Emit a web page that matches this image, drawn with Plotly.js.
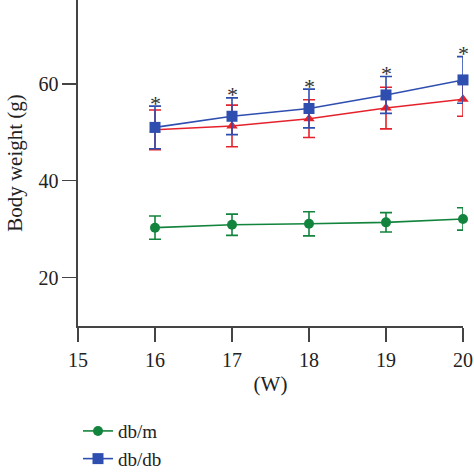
<!DOCTYPE html>
<html>
<head>
<meta charset="utf-8">
<script src="https://cdn.plot.ly/plotly-3.0.1.min.js"></script>
<style>html,body{margin:0;padding:0;background:#fff;}#chart{width:474px;height:474px;}</style>
</head>
<body>
<div id="chart"></div>
<script>
const weeks = [16, 17, 18, 19, 20];
const dbmMean = [30.3, 30.9, 31.1, 31.4, 32.1];
const dbmErr = [2.4, 2.2, 2.5, 2.0, 2.3];
const dbdbMean = [51.0, 53.3, 54.9, 57.7, 60.8];
const dbdbErr = [4.4, 3.8, 4.0, 3.8, 4.8];
const treatMean = [50.5, 51.3, 52.8, 55.0, 56.8];
const treatErr = [4.1, 4.3, 3.9, 4.3, 3.5];
const seriesNames = ["db/m", "db/db", "treated"];
const sigMark = ["*", "*", "*", "*", "*"];

const green = "#13843d", blue = "#2e4eb0", red = "#e5222b";
function trace(y, err, name, color, symbol, showleg) {
  return {
    x: weeks, y: y, name: name, type: "scatter", mode: "lines+markers",
    line: {color: color, width: 1.6},
    marker: {color: color, symbol: symbol, size: symbol === "square" ? 11 : 10},
    error_y: {type: "data", array: err, visible: true, color: color, thickness: 1.6, width: 6},
    cliponaxis: false, showlegend: showleg
  };
}
const data = [
  trace(dbmMean, dbmErr, seriesNames[0], green, "circle", true),
  trace(treatMean, treatErr, seriesNames[2], red, "triangle-up", false),
  trace(dbdbMean, dbdbErr, seriesNames[1], blue, "square", true)
];
const annotations = weeks.map((w, i) => ({
  x: w, y: dbdbMean[i] + dbdbErr[i], xref: "x", yref: "y",
  text: sigMark[i], showarrow: false, yanchor: "middle", yshift: 3,
  font: {family: "Liberation Serif", size: 22, color: "#333"}
}));
const font = {family: "Liberation Serif, Times New Roman, serif", size: 20, color: "#222"};
const layout = {
  width: 474, height: 474,
  margin: {l: 78, r: 11, t: 0, b: 148, autoexpand: false},
  paper_bgcolor: "#fff", plot_bgcolor: "#fff",
  font: font,
  xaxis: {
    range: [15, 20], tick0: 15, dtick: 1, showgrid: false, zeroline: false,
    showline: true, linecolor: "#444", linewidth: 1.6,
    ticks: "outside", ticklen: 14, tickwidth: 1.6, tickcolor: "#444",
    tickfont: font, ticklabelstandoff: 1, automargin: false,
    title: {text: "(W)", font: {family: font.family, size: 21, color: "#222"}, standoff: 7}
  },
  yaxis: {
    range: [10, 77.3], tick0: 0, dtick: 20, showgrid: false, zeroline: false,
    showline: true, linecolor: "#444", linewidth: 1.6,
    ticks: "outside", ticklen: 14, tickwidth: 1.6, tickcolor: "#444",
    tickfont: font, automargin: false,
    title: {text: "Body weight (g)", font: {family: font.family, size: 21, color: "#222"}, standoff: 10}
  },
  legend: {
    x: 0.0, xanchor: "left", y: -0.264, yanchor: "top",
    font: {family: "Liberation Serif, serif", size: 19, color: "#222"},
    bgcolor: "rgba(0,0,0,0)", tracegroupgap: 0
  },
  annotations: annotations,
  showlegend: true
};
Plotly.newPlot("chart", data, layout, {staticPlot: true, displayModeBar: false});
</script>
</body>
</html>
